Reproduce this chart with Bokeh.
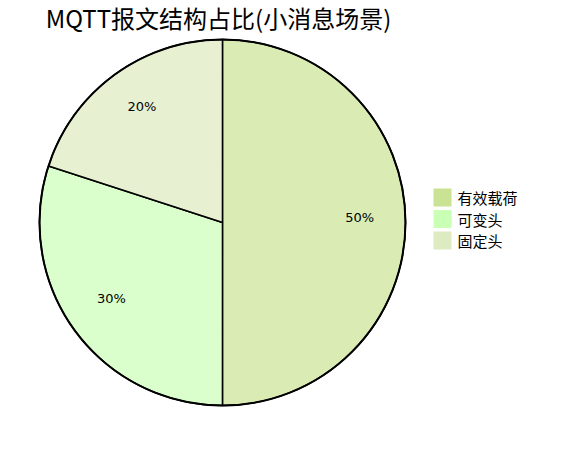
import math
from bokeh.plotting import figure
from bokeh.models import Range1d, ColumnDataSource
from bokeh.core.properties import value
from bokeh.embed import file_html
from bokeh.resources import INLINE

# ---- data ----
title_text = "MQTT报文结构占比(小消息场景)"
categories = ["有效载荷", "可变头", "固定头"]
shares = [50, 30, 20]
colors = ["#cae294", "#caffb6", "#deeabf"]

# ---- layout (pixel-like units) ----
W, H = 560, 430
cx, cy, R = 222, 208, 183
CJK = "Noto Sans CJK SC"

p = figure(width=W, height=H, output_backend="svg", toolbar_location=None,
           x_range=Range1d(0, W), y_range=Range1d(0, H), min_border=0,
           match_aspect=False)
p.axis.visible = False
p.grid.visible = False
p.outline_line_color = None
p.background_fill_color = "white"
p.border_fill_color = "white"

total = float(sum(shares))
starts, ends, lx, ly, labels = [], [], [], [], []
cum = 0.0
for s in shares:
    a0 = math.pi / 2 - cum / total * 2 * math.pi
    cum += s
    a1 = math.pi / 2 - cum / total * 2 * math.pi
    starts.append(a0)
    ends.append(a1)
    mid = (a0 + a1) / 2
    lx.append(cx + 0.75 * R * math.cos(mid))
    ly.append(cy + 0.75 * R * math.sin(mid) + 5)
    labels.append(f"{s}%")

src = ColumnDataSource(dict(start=starts, end=ends, color=colors,
                            lx=lx, ly=ly, label=labels))
p.wedge(x=cx, y=cy, radius=R, start_angle="start", end_angle="end",
        direction="clock", fill_color="color", fill_alpha=0.7,
        line_color="black", line_width=1.5, source=src)
# outer border
p.circle(x=[cx], y=[cy], radius=R, fill_color=None, line_color="black", line_width=2)

p.text(x="lx", y="ly", text="label", source=src, text_align="center",
       text_baseline="middle", text_font=value("DejaVu Sans"),
       text_font_size="13px", text_color="black")

# title
p.text(x=[218], y=[413], text=[title_text], text_align="center",
       text_baseline="middle", text_font=value(CJK), text_font_size="24px",
       text_color="black")

# legend (manual)
n = len(categories)
leg_y = [233 - i * 21.5 for i in range(n)]
leg = ColumnDataSource(dict(x=[442] * n, tx=[457] * n, y=leg_y,
                            color=colors, label=categories))
p.rect(x="x", y="y", width=18, height=18, fill_color="color", line_color=None, source=leg)
p.text(x="tx", y="y", text="label", source=leg, text_align="left",
       text_baseline="middle", text_font=value(CJK), text_font_size="15px",
       text_color="black")

open("out.html", "w").write(file_html(p, INLINE))
